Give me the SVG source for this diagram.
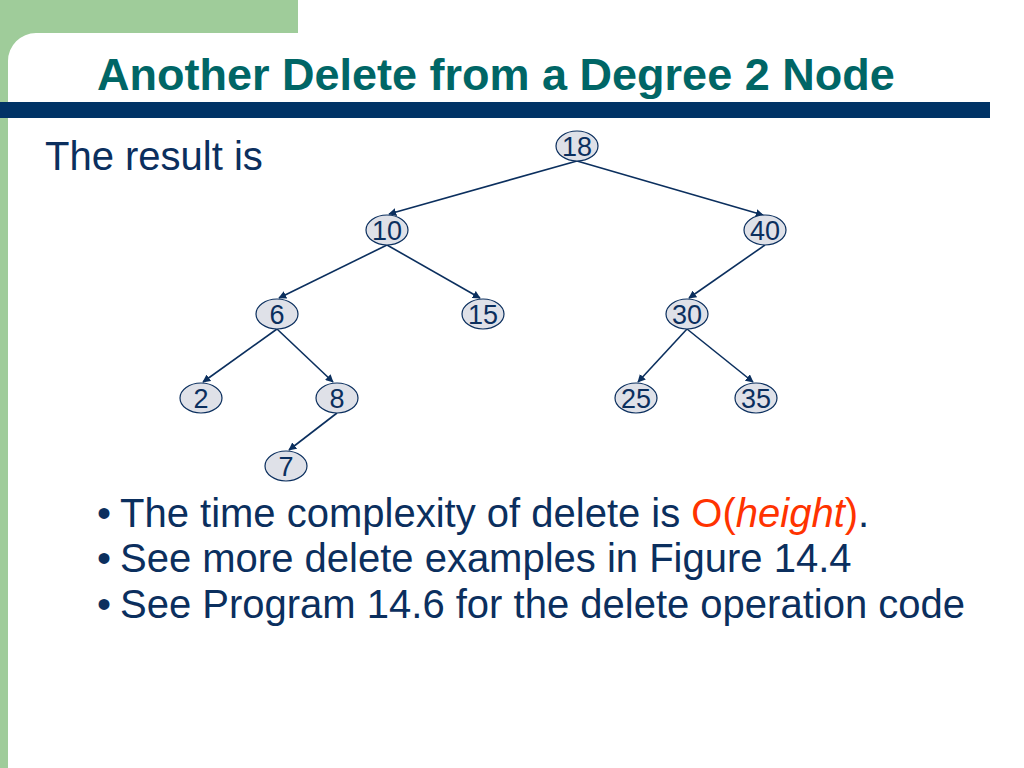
<svg xmlns="http://www.w3.org/2000/svg" width="1024" height="768" viewBox="0 0 1024 768">
<style>
.node ellipse{fill:#dfe1e8;stroke:#0b2f5e;stroke-width:1.2}
.node text{font-family:"Liberation Sans",Arial,sans-serif;font-size:27px;fill:#0b2f5e;text-anchor:middle}
.edge{stroke:#0b2f5e;stroke-width:1.6;fill:none;marker-end:url(#arr)}
.body{font-family:"Liberation Sans",Arial,sans-serif;font-size:40px;fill:#0b2f5e}
</style>
<defs>
<marker id="arr" viewBox="0 0 10 10" refX="9" refY="5" markerWidth="8" markerHeight="8" markerUnits="userSpaceOnUse" orient="auto">
<path d="M0,0 L10,5 L0,10 Z" fill="#0b2f5e"/>
</marker>
</defs>
<rect width="1024" height="768" fill="#ffffff"/>
<path d="M0,0 H298 V33 H36 A28,28 0 0 0 8,61 V768 H0 Z" fill="#9fcc9a"/>
<rect x="0" y="102" width="990" height="16" fill="#003366"/>
<text x="97" y="90" font-family="'Liberation Sans',Arial,sans-serif" font-size="45" font-weight="bold" fill="#006666">Another Delete from a Degree 2 Node</text>
<text class="body" x="45" y="170">The result is</text>
<g id="connectors">
<line class="edge" x1="577" y1="161" x2="389" y2="214"/>
<line class="edge" x1="577" y1="161" x2="763" y2="215"/>
<line class="edge" x1="387" y1="245" x2="279" y2="298"/>
<line class="edge" x1="387" y1="245" x2="480" y2="298"/>
<line class="edge" x1="765" y1="245" x2="689" y2="298"/>
<line class="edge" x1="277" y1="329" x2="203" y2="382"/>
<line class="edge" x1="277" y1="329" x2="333" y2="382"/>
<line class="edge" x1="687" y1="329" x2="638" y2="382"/>
<line class="edge" x1="687" y1="329" x2="753" y2="382"/>
<line class="edge" x1="337" y1="413" x2="289" y2="450"/>
</g>
<g id="n18" class="node"><ellipse cx="577" cy="146" rx="21" ry="15"/><text x="577" y="155.5">18</text></g>
<g id="n10" class="node"><ellipse cx="387" cy="230" rx="21" ry="15"/><text x="387" y="239.5">10</text></g>
<g id="n40" class="node"><ellipse cx="765" cy="230" rx="21" ry="15"/><text x="765" y="239.5">40</text></g>
<g id="n6" class="node"><ellipse cx="277" cy="314" rx="21" ry="15"/><text x="277" y="323.5">6</text></g>
<g id="n15" class="node"><ellipse cx="483" cy="314" rx="21" ry="15"/><text x="483" y="323.5">15</text></g>
<g id="n30" class="node"><ellipse cx="687" cy="314" rx="21" ry="15"/><text x="687" y="323.5">30</text></g>
<g id="n2" class="node"><ellipse cx="201" cy="398" rx="21" ry="15"/><text x="201" y="407.5">2</text></g>
<g id="n8" class="node"><ellipse cx="337" cy="398" rx="21" ry="15"/><text x="337" y="407.5">8</text></g>
<g id="n25" class="node"><ellipse cx="636" cy="398" rx="21" ry="15"/><text x="636" y="407.5">25</text></g>
<g id="n35" class="node"><ellipse cx="756" cy="398" rx="21" ry="15"/><text x="756" y="407.5">35</text></g>
<g id="n7" class="node"><ellipse cx="286" cy="466" rx="21" ry="15"/><text x="286" y="475.5">7</text></g>
<text class="body" x="97" y="527">•</text>
<text class="body" x="120" y="527">The time complexity of delete is <tspan fill="#ff3300">O(<tspan font-style="italic">height</tspan>)</tspan>.</text>
<text class="body" x="97" y="572">•</text>
<text class="body" x="120" y="572">See more delete examples in Figure 14.4</text>
<text class="body" x="97" y="618">•</text>
<text class="body" x="120" y="618">See Program 14.6 for the delete operation code</text>
</svg>
